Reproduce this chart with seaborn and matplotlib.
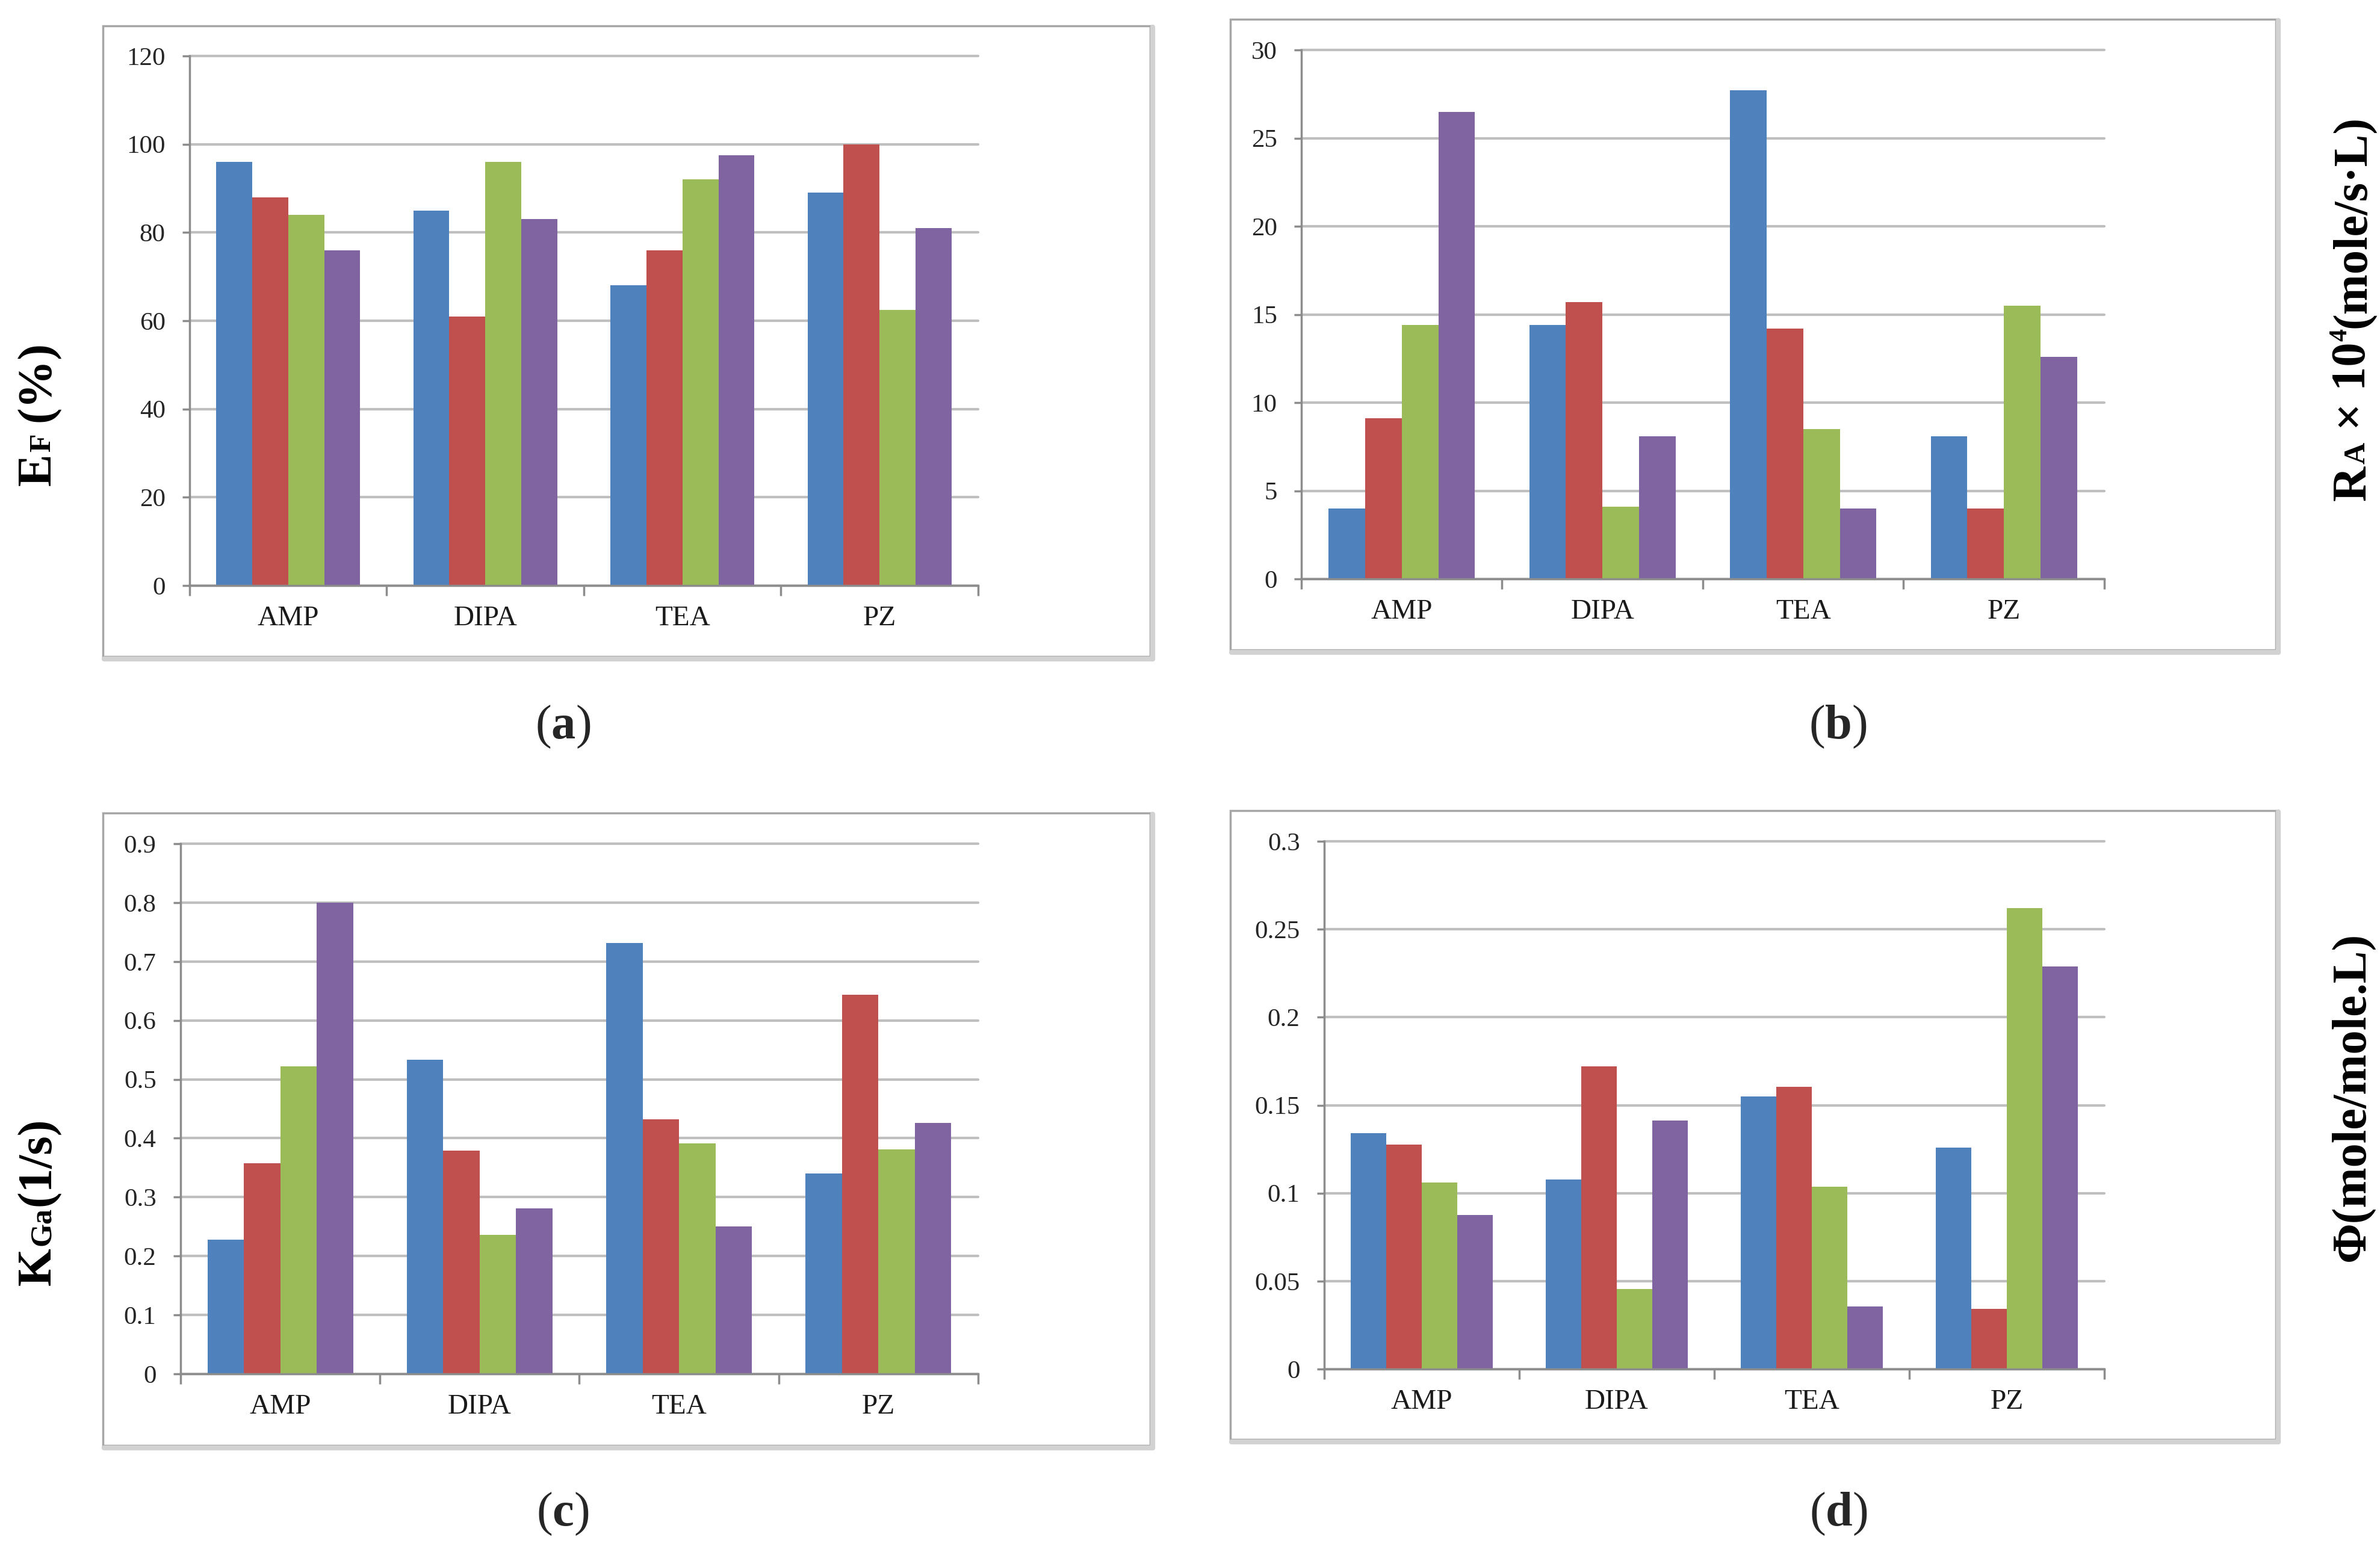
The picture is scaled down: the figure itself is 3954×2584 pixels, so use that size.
import numpy as np
import pandas as pd
import matplotlib
matplotlib.use("Agg")
import matplotlib.pyplot as plt
import seaborn as sns
from matplotlib.patches import Rectangle
from matplotlib.lines import Line2D

# amines on the x axis, four runs per amine (Excel series 1-4)
amines = ['AMP', 'DIPA', 'TEA', 'PZ']
runs = ['Series1', 'Series2', 'Series3', 'Series4']
colors = ['#4F81BD', '#C0504D', '#9BBB59', '#8064A2']

# values per amine, one entry per run
ef = [[96, 88, 84, 76], [85, 61, 96, 83], [68, 76, 92, 97.5], [89, 100, 62.5, 81]]
ra = [[4.0, 9.1, 14.4, 26.5], [14.4, 15.7, 4.1, 8.1], [27.7, 14.2, 8.5, 4.0], [8.1, 4.0, 15.5, 12.6]]
kga = [[0.228, 0.358, 0.522, 0.80], [0.533, 0.379, 0.236, 0.281],
       [0.731, 0.432, 0.391, 0.250], [0.340, 0.644, 0.381, 0.426]]
phi = [[0.134, 0.1276, 0.106, 0.0877], [0.1077, 0.172, 0.0454, 0.1413],
       [0.1548, 0.1606, 0.1037, 0.0356], [0.1259, 0.0342, 0.2621, 0.229]]

ef_ticks = [0, 20, 40, 60, 80, 100, 120]
ra_ticks = [0, 5, 10, 15, 20, 25, 30]
kga_ticks = [0, 0.1, 0.2, 0.3, 0.4, 0.5, 0.6, 0.7, 0.8, 0.9]
kga_labels = ['0', '0.1', '0.2', '0.3', '0.4', '0.5', '0.6', '0.7', '0.8', '0.9']
phi_ticks = [0, 0.05, 0.1, 0.15, 0.2, 0.25, 0.3]
phi_labels = ['0', '0.05', '0.1', '0.15', '0.2', '0.25', '0.3']

sns.set_theme(style='white')
plt.rcParams['font.family'] = ['Liberation Serif', 'DejaVu Serif']
plt.rcParams['mathtext.fontset'] = 'custom'
plt.rcParams['mathtext.rm'] = 'Liberation Serif'
plt.rcParams['mathtext.bf'] = 'Liberation Serif:bold'

W, H = 3955, 2584
fig = plt.figure(figsize=(W / 100, H / 100), dpi=100)


def to_long(vals):
    rows = []
    for i, a in enumerate(amines):
        for j, r in enumerate(runs):
            rows.append({'amine': a, 'run': r, 'value': vals[i][j]})
    return pd.DataFrame(rows)


def px_rect(x0, y0, x1, y1):
    return [x0 / W, 1 - y1 / H, (x1 - x0) / W, (y1 - y0) / H]


def frame(x0, y0, x1, y1):
    shade = '#D2D2D2'
    fig.add_artist(Line2D([(x1 + 4) / W] * 2, [1 - (y0 + 2) / H, 1 - (y1 + 4) / H],
                          transform=fig.transFigure, color=shade, lw=6))
    fig.add_artist(Line2D([(x0 + 2) / W, (x1 + 4) / W], [1 - (y1 + 4) / H] * 2,
                          transform=fig.transFigure, color=shade, lw=6))
    fig.add_artist(Rectangle((x0 / W, 1 - y1 / H), (x1 - x0) / W, (y1 - y0) / H,
                             transform=fig.transFigure, fill=False, ec='#A6A6A6', lw=2.5))


def stacked_label(ax, parts, cx, cy):
    # parts: (text, size, gap before in pt, rise in pt); small pieces share the baseline
    texts = []
    big = parts[0][1]
    for i, (s, size, gap, rise) in enumerate(parts):
        kw = dict(rotation=90, fontsize=size, fontweight='bold', color='black',
                  family=['Liberation Serif', 'DejaVu Serif'], ha='right', va='bottom')
        if i == 0:
            t = fig.text(0, 0, s, **kw)
        else:
            dx = -0.216 * (big - size) - rise
            t = ax.annotate(s, xy=(1, 1), xycoords=(texts[0], texts[-1]), xytext=(dx, gap),
                            textcoords='offset points', annotation_clip=False, **kw)
        texts.append(t)
    return texts, cx, cy


def panel(vals, ymax, ticks, labels, axbox, box, tag, tagpos):
    ax = fig.add_axes(px_rect(*axbox))
    sns.barplot(data=to_long(vals), x='amine', y='value', hue='run', palette=colors,
                width=0.73, saturation=1, linewidth=0, errorbar=None, legend=False, ax=ax)
    ax.set_xlim(-0.5, 3.5)
    ax.set_ylim(0, ymax)
    ax.set_yticks(ticks)
    ax.set_yticklabels(labels)
    ax.set_xlabel('')
    ax.set_ylabel('')
    ax.yaxis.grid(True, color='#BFBFBF', lw=3)
    for g in ax.get_ygridlines():
        g.set_clip_on(False)
    ax.set_axisbelow(True)
    for side in ['top', 'right']:
        ax.spines[side].set_visible(False)
    for side in ['left', 'bottom']:
        ax.spines[side].set_color('#8C8C8C')
        ax.spines[side].set_linewidth(2.5)
    ax.tick_params(axis='y', left=True, length=9, width=2.5, color='#8C8C8C',
                   labelsize=31, labelcolor='#262626', pad=20)
    ax.tick_params(axis='x', which='major', length=0, labelsize=34, labelcolor='#1A1A1A', pad=24)
    ax.set_xticks(np.arange(-0.5, 4, 1), minor=True)
    ax.tick_params(axis='x', which='minor', bottom=True, length=12, width=2.5, color='#8C8C8C')
    frame(*box)
    fig.text(tagpos[0] / W, 1 - tagpos[1] / H, '($\\mathbf{%s}$)' % tag,
             ha='center', va='center', fontsize=58)
    return ax


ax_a = panel(ef, 120, ef_ticks, [str(t) for t in ef_ticks], (315, 93, 1625, 973),
             (171, 43, 1911, 1091), 'a', (935, 1208))
ax_b = panel(ra, 30, ra_ticks, [str(t) for t in ra_ticks], (2162, 83, 3496, 962),
             (2044, 32, 3781, 1080), 'b', (3053, 1208))
ax_c = panel(kga, 0.9, kga_ticks, kga_labels, (300, 1402, 1625, 2283),
             (171, 1351, 1911, 2402), 'c', (935, 2516))
ax_d = panel(phi, 0.3, phi_ticks, phi_labels, (2200, 1398, 3496, 2275),
             (2044, 1347, 3781, 2392), 'd', (3054, 2516))

labels = [
    stacked_label(ax_a, [('E', 58, 0, 0), ('F', 36, 2, 0), ('(%)', 58, 14, 0)], 64, 687),
    stacked_label(ax_b, [('R', 58, 0, 0), ('A', 36, 2, 0), ('× 10', 58, 14, 0),
                         ('4', 30, 1, 22), ('(mole/s·L)', 58, 1, 0)], 3908, 512),
    stacked_label(ax_c, [('K', 58, 0, 0), ('Ga', 36, 2, 0), ('(1/s)', 58, 2, 0)], 64, 1996),
    stacked_label(ax_d, [('Φ(mole/mole.L)', 58, 0, 0)], 3908, 1822),
]

# centre each composed label on its spot
fig.canvas.draw()
r = fig.canvas.get_renderer()
for texts, cx, cy in labels:
    boxes = [t.get_window_extent(r) for t in texts]
    ux = (min(b.x0 for b in boxes) + max(b.x1 for b in boxes)) / 2
    uy = (min(b.y0 for b in boxes) + max(b.y1 for b in boxes)) / 2
    texts[0].set_position(((cx - ux) / W, ((H - cy) - uy) / H))

fig.savefig('out.png', dpi=100)
